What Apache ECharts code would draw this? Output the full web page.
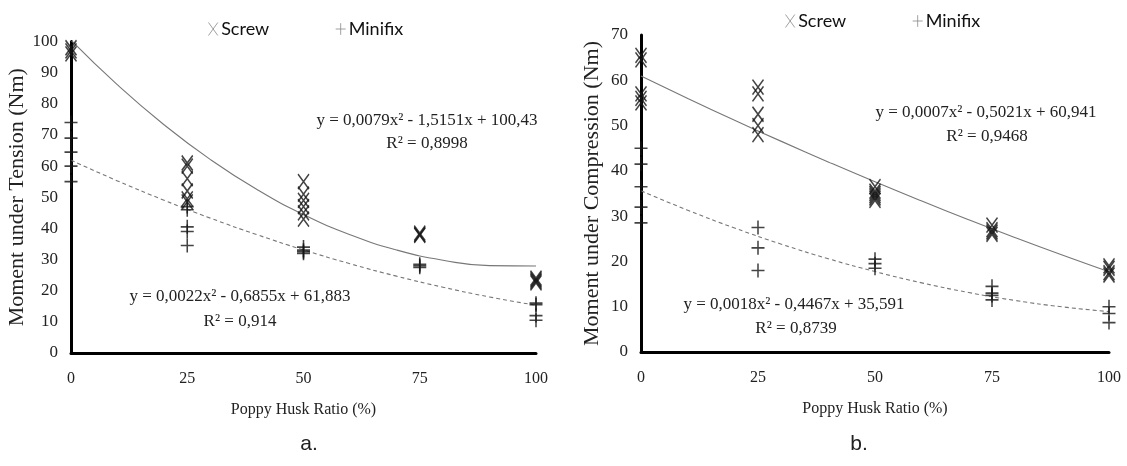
<!DOCTYPE html>
<html><head><meta charset="utf-8">
<script src="https://cdn.jsdelivr.net/npm/echarts@6/dist/echarts.min.js"></script>
<style>html,body{margin:0;padding:0;background:#fff}#c{width:1127px;height:466px}</style>
</head><body><div id="c"></div>
<script>
// ---- data ----
const xLevels = [0, 25, 50, 75, 100];
const seriesNames = ['Screw', 'Minifix'];
const tensionScrew = [[98, 97, 96], [61, 60, 56, 52, 49.5, 48.5], [55, 51, 49, 47, 45, 43], [38.5, 38, 37.8], [24, 23.5, 23, 22.5]];
const tensionMinifix = [[74, 69, 64.5, 60, 55], [47, 46, 40.5, 39, 34.5], [34, 33, 32.5, 32], [28.5, 28, 27.5], [16, 15.5, 12, 10.5]];
const compressionScrew = [[65.5, 64.5, 57, 56, 55], [58.5, 57, 52.5, 50, 48], [36.5, 35.5, 35, 34.5, 34, 33.5], [28, 27, 26.5, 26], [19, 18.5, 17.5, 17]];
const compressionMinifix = [[45, 41.5, 36.5, 32, 28.5], [27.5, 23, 18], [20.5, 19.5, 18.5], [14.5, 13, 12.5, 11.5], [10, 8.5, 6.5]];
const trendX = [0, 10, 20, 30, 40, 50, 60, 70, 80, 90, 100];
const tensionScrewTrend = [100.43, 86.07, 73.29, 62.09, 52.47, 44.42, 37.96, 33.08, 29.78, 28.06, 27.92];
const tensionMinifixTrend = [61.88, 55.25, 49.05, 43.29, 37.98, 33.10, 28.67, 24.67, 21.12, 18.00, 15.33];
const compressionScrewTrend = [60.94, 55.99, 51.18, 46.51, 41.98, 37.58, 33.33, 29.22, 25.25, 21.42, 17.73];
const compressionMinifixTrend = [35.59, 31.30, 27.38, 23.81, 20.60, 17.76, 15.27, 13.14, 11.37, 9.97, 8.92];
const equationsA = ['y = 0,0079x² - 1,5151x + 100,43', 'R² = 0,8998', 'y = 0,0022x² - 0,6855x + 61,883', 'R² = 0,914'];
const equationsB = ['y = 0,0007x² - 0,5021x + 60,941', 'R² = 0,9468', 'y = 0,0018x² - 0,4467x + 35,591', 'R² = 0,8739'];
const xAxisTitle = 'Poppy Husk Ratio (%)';
const yTitleA = 'Moment under Tension (Nm)';
const yTitleB = 'Moment under Compression (Nm)';
const panelLabels = ['a.', 'b.'];

// ---- helpers ----
const pts = (groups) => xLevels.flatMap((x, i) => groups[i].map(v => [x, v]));
const trend = (vals) => trendX.map((x, i) => [x, vals[i]]);
const X_PATH = 'path://M0,0L10,14M10,0L0,14';
const P_PATH = 'path://M6,0L6,14M0,7L12,7';
const SERIF = '"Liberation Serif", "DejaVu Serif", serif';
const SANS = 'Lato, "Open Sans", sans-serif';

function scatter(name, idx, data, path, size) {
  return {
    type: 'scatter', name, xAxisIndex: idx, yAxisIndex: idx, data,
    symbol: path, symbolSize: size,
    itemStyle: { color: 'rgba(0,0,0,0)', borderColor: '#151515', borderWidth: 1.6 },
    emphasis: { disabled: true }, z: 3
  };
}
function fit(name, idx, data, dashed) {
  return {
    type: 'line', name, xAxisIndex: idx, yAxisIndex: idx, data, smooth: true,
    showSymbol: false, symbol: 'none',
    lineStyle: { color: '#777', width: 1.1, type: dashed ? [4, 3] : 'solid' },
    emphasis: { disabled: true }, z: 2
  };
}
function xAx(idx) {
  return {
    type: 'value', gridIndex: idx, min: 0, max: 100, interval: 25,
    name: xAxisTitle, nameLocation: 'middle', nameGap: 49,
    nameTextStyle: { fontFamily: SERIF, fontSize: 16, color: '#222' },
    axisLine: { lineStyle: { color: '#000', width: 3 } },
    axisTick: { show: false }, splitLine: { show: false },
    axisLabel: { fontFamily: SERIF, fontSize: 16, color: '#222', margin: 18 }
  };
}
function yAx(idx, max, name, gap) {
  return {
    type: 'value', gridIndex: idx, min: 0, max, interval: 10,
    name, nameLocation: 'middle', nameGap: gap, nameRotate: 90,
    nameTextStyle: { fontFamily: SERIF, fontSize: 22, color: '#222' },
    axisLine: { show: true, lineStyle: { color: '#000', width: 3 } },
    axisTick: { show: false }, splitLine: { show: false },
    axisLabel: { fontFamily: SERIF, fontSize: 17, color: '#222', margin: 13 }
  };
}
function legend(left, top) {
  return {
    left, top, itemWidth: 10, itemHeight: 13, itemGap: 66,
    selectedMode: false,
    data: [{ name: seriesNames[0], icon: X_PATH }, { name: seriesNames[1], icon: P_PATH }],
    itemStyle: { color: 'rgba(0,0,0,0)', borderColor: '#888', borderWidth: 1 },
    textStyle: { fontFamily: SANS, fontSize: 18, color: '#111', padding: [0, 0, 0, -2] }
  };
}
function txt(x, y, s, size, font) {
  return { type: 'text', x, y, style: { text: s, font: size + 'px ' + font, fill: '#222', align: 'center', verticalAlign: 'middle' } };
}

const chart = echarts.init(document.getElementById('c'), null, { renderer: 'canvas' });
chart.setOption({
  backgroundColor: '#fff',
  animation: false,
  grid: [
    { left: 71, top: 41.5, width: 465, height: 311.5 },
    { left: 641, top: 35, width: 468, height: 317 }
  ],
  xAxis: [xAx(0), xAx(1)],
  yAxis: [yAx(0, 100, yTitleA, 42), yAx(1, 70, yTitleB, 38)],
  legend: [legend(203, 15), legend(780, 7)],
  series: [
    fit('Screw fit a', 0, trend(tensionScrewTrend), false),
    fit('Minifix fit a', 0, trend(tensionMinifixTrend), true),
    fit('Screw fit b', 1, trend(compressionScrewTrend), false),
    fit('Minifix fit b', 1, trend(compressionMinifixTrend), true),
    scatter(seriesNames[0], 0, pts(tensionScrew), X_PATH, [11, 15]),
    scatter(seriesNames[1], 0, pts(tensionMinifix), P_PATH, [13, 14]),
    scatter(seriesNames[0], 1, pts(compressionScrew), X_PATH, [11, 15]),
    scatter(seriesNames[1], 1, pts(compressionMinifix), P_PATH, [13, 14])
  ],
  graphic: [
    txt(427, 121, equationsA[0], 17, SERIF),
    txt(427, 144, equationsA[1], 17, SERIF),
    txt(240, 297, equationsA[2], 17, SERIF),
    txt(240, 322, equationsA[3], 17, SERIF),
    txt(986, 113, equationsB[0], 17, SERIF),
    txt(987, 137, equationsB[1], 17, SERIF),
    txt(794, 305, equationsB[2], 17, SERIF),
    txt(796, 329, equationsB[3], 17, SERIF),
    txt(309, 444, panelLabels[0], 21, '"Liberation Sans", Arial, sans-serif'),
    txt(859, 444, panelLabels[1], 21, '"Liberation Sans", Arial, sans-serif')
  ]
});
</script></body></html>
